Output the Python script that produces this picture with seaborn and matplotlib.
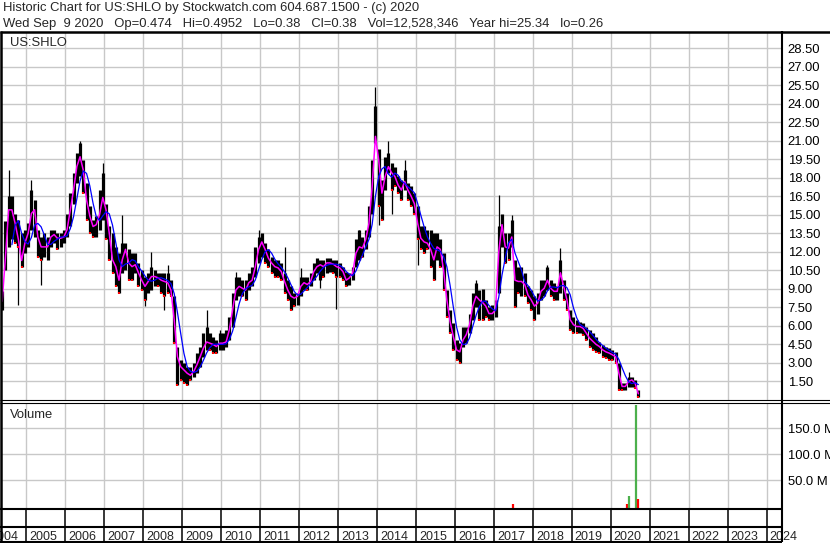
import matplotlib
matplotlib.use("Agg")
import matplotlib.pyplot as plt
import matplotlib.transforms as mtransforms
from matplotlib.lines import Line2D
import numpy as np
import pandas as pd
import seaborn as sns

# monthly bars, May 2004 .. Sep 2020
months = pd.period_range("2004-05", "2020-09", freq="M")

lo = [7.3, 10.5, 12.4, 13.0, 12.7, 12.4, 10.8, 11.9,
      12.4, 13.8, 13.2, 11.6, 11.35, 11.6, 11.35, 12.4, 12.7, 12.2, 12.4, 12.7,
      13.2, 14.05, 15.9, 17.6, 18.1, 16.75, 14.6, 13.5, 13.2, 13.2, 13.8, 14.6,
      13.0, 11.35, 10.3, 9.2, 8.65, 10.3, 10.5, 9.7, 9.7, 10.3, 9.2, 8.9,
      8.1, 8.65, 8.9, 9.2, 9.2, 8.65, 8.4, 8.65, 8.4, 4.6, 1.2, 1.63,
      1.36, 1.2, 1.63, 1.9, 2.17, 2.7, 3.5, 4.06, 4.06, 3.8, 3.8, 4.06,
      4.06, 4.33, 4.87, 5.95, 8.1, 8.4, 8.4, 8.1, 8.9, 9.2, 10.0, 11.1,
      11.6, 11.1, 10.8, 10.3, 10.0, 10.0, 9.7, 8.65, 8.1, 7.3, 7.6, 7.7,
      8.4, 8.9, 8.9, 9.2, 9.7, 10.3, 9.7, 10.0, 10.3, 10.4, 10.3, 10.0,
      10.0, 9.7, 9.2, 9.3, 9.7, 10.8, 11.35, 11.6, 12.2, 13.2, 15.1, 20.8,
      15.7, 14.6, 17.0, 18.4, 17.0, 17.3, 16.75, 16.2, 17.0, 16.2, 15.7, 15.1,
      13.0, 12.2, 11.9, 12.2, 10.8, 9.7, 11.35, 10.8, 8.9, 6.76, 5.4, 4.06,
      3.25, 3.0, 4.33, 4.6, 5.4, 6.5, 7.57, 6.5, 6.5, 6.76, 6.5, 6.5,
      6.76, 8.65, 12.4, 11.1, 11.35, 12.4, 7.57, 8.65, 8.4, 8.4, 7.84, 7.3,
      6.5, 7.0, 8.1, 8.4, 8.9, 8.4, 8.1, 8.1, 8.65, 8.1, 7.3, 5.68,
      5.4, 5.4, 5.4, 5.27, 4.87, 4.33, 4.06, 3.9, 3.79, 3.52, 3.4, 3.25,
      3.25, 3.0, 0.82, 0.82, 0.82, 1.09, 1.09, 0.95, 0.26]

hi = [8.8, 14.5, 16.5, 16.5, 15.1, 14.6, 13.5, 13.8,
      14.3, 17.0, 16.2, 13.8, 13.2, 13.5, 13.2, 13.8, 13.8, 13.5, 13.5, 13.8,
      15.1, 16.75, 18.4, 20.0, 20.8, 19.45, 17.6, 15.7, 14.6, 14.9, 17.0, 18.4,
      15.9, 14.05, 13.5, 12.4, 11.9, 12.7, 12.7, 12.2, 11.9, 11.9, 11.1, 10.5,
      10.0, 10.3, 10.8, 10.5, 10.3, 10.3, 10.3, 10.3, 9.7, 8.4, 4.33, 3.25,
      3.0, 2.7, 2.7, 3.0, 3.8, 4.33, 5.4, 5.95, 5.4, 5.14, 4.87, 5.4,
      5.4, 5.68, 6.76, 8.65, 10.0, 10.0, 9.7, 9.7, 10.3, 10.8, 12.4, 13.2,
      13.5, 12.7, 12.2, 11.6, 11.35, 11.35, 11.1, 10.3, 9.7, 9.2, 8.65, 8.65,
      10.0, 10.0, 10.0, 10.3, 11.1, 11.5, 11.35, 11.35, 11.5, 11.5, 11.35, 11.35,
      11.1, 10.8, 10.4, 10.3, 10.8, 13.0, 13.8, 13.2, 13.8, 15.7, 19.45, 23.8,
      20.3, 17.8, 19.7, 20.0, 19.2, 18.9, 18.1, 17.8, 18.6, 17.6, 17.3, 16.75,
      15.7, 14.05, 14.05, 13.8, 13.8, 13.5, 13.5, 13.0, 11.9, 8.9, 7.3, 6.2,
      4.87, 4.6, 5.95, 5.95, 7.0, 8.65, 9.46, 8.9, 9.0, 8.1, 7.57, 7.7,
      8.1, 14.05, 15.1, 13.5, 13.5, 14.6, 11.35, 10.8, 10.8, 10.3, 9.2, 8.9,
      8.4, 8.65, 9.7, 9.7, 10.8, 9.7, 9.46, 9.2, 11.35, 9.7, 8.65, 7.3,
      6.76, 6.5, 6.35, 6.22, 5.95, 5.68, 5.4, 5.14, 4.73, 4.46, 4.33, 4.2,
      4.06, 3.9, 3.0, 1.36, 1.36, 1.9, 1.9, 1.63, 0.82]

cl = [8.0, 11.5, 15.4, 15.4, 14.3, 13.0, 11.3, 12.7,
      13.5, 15.1, 15.4, 13.2, 12.4, 12.4, 12.4, 13.2, 13.4, 13.1, 13.1, 13.2,
      13.8, 15.4, 17.0, 18.9, 19.7, 18.6, 16.2, 14.9, 14.05, 14.2, 15.0, 16.4,
      15.4, 13.5, 11.35, 10.8, 9.7, 11.35, 12.2, 11.1, 10.8, 10.95, 10.3, 9.7,
      9.2, 9.6, 10.0, 10.0, 9.9, 9.7, 9.6, 9.5, 8.9, 6.5, 3.5, 2.7,
      2.44, 2.17, 2.0, 2.3, 2.85, 3.5, 4.2, 4.7, 4.6, 4.5, 4.33, 4.6,
      4.6, 4.7, 5.7, 7.3, 8.9, 9.2, 9.05, 8.9, 9.5, 9.7, 10.8, 12.2,
      12.8, 12.2, 11.5, 11.1, 10.8, 10.7, 10.4, 9.6, 8.9, 8.4, 8.25, 8.4,
      9.2, 9.5, 9.35, 9.6, 10.4, 10.8, 10.95, 10.8, 11.1, 11.1, 11.0, 10.8,
      10.7, 10.4, 9.7, 9.9, 10.3, 11.9, 12.4, 12.3, 13.0, 14.3, 17.3, 21.35,
      19.45, 16.75, 18.1, 18.9, 18.4, 18.1, 17.4, 17.0, 17.7, 17.0, 16.5, 15.9,
      14.3, 13.1, 12.8, 12.7, 12.2, 11.35, 12.4, 12.2, 10.5, 8.1, 6.35, 5.14,
      4.06, 3.9, 4.87, 5.3, 6.1, 7.6, 8.4, 8.1, 7.9, 7.6, 7.0, 7.0,
      7.3, 12.0, 14.2, 12.4, 12.3, 13.2, 9.7, 9.6, 9.6, 9.35, 8.5, 8.1,
      7.6, 7.85, 8.8, 9.05, 9.7, 9.05, 8.8, 8.8, 10.3, 9.2, 8.1, 6.5,
      6.1, 5.95, 5.95, 5.8, 5.4, 5.0, 4.75, 4.5, 4.33, 4.06, 3.9, 3.8,
      3.66, 3.5, 2.17, 1.1, 1.1, 1.5, 1.63, 1.36, 0.5]

# single-day spikes beyond the usual monthly range
spike_up_months = ["2004-07", "2005-02", "2006-05", "2006-12", "2007-06", "2008-03",
                   "2008-08", "2009-08", "2009-12", "2010-05", "2010-12", "2011-08",
                   "2012-01", "2013-07", "2013-12", "2014-04", "2014-09", "2016-07",
                   "2017-02", "2017-06", "2018-05", "2018-09", "2020-06"]
spike_up = [18.6, 17.8, 21.0, 19.2, 15.0, 12.0, 10.9, 7.3, 5.7, 10.4, 13.8, 12.4,
            10.7, 13.8, 25.34, 21.0, 19.45, 9.7, 16.6, 15.0, 10.9, 12.3, 2.3]
spike_dn_months = ["2004-10", "2005-05", "2008-01", "2008-07", "2012-07",
                   "2012-12", "2014-01", "2014-05", "2015-01"]
spike_dn = [7.7, 9.3, 7.6, 7.3, 9.05, 7.4, 14.2, 15.1, 10.95]

vol_days = ["2017-06-28", "2020-06-03", "2020-06-16", "2020-08-24", "2020-09-09"]
vol = [3.0e6, 3.0e6, 20e6, 196e6, 12.5e6]
vol_up = [False, False, True, True, False]

price_ticks = [1.5 * k for k in range(1, 20)]
vol_ticks = [50e6, 100e6, 150e6]
years = list(range(2004, 2025))


def dec_year(p):
    return p.year + (p.month - 0.5) / 12


df = pd.DataFrame({"t": [dec_year(p) for p in months], "lo": lo, "hi": hi, "cl": cl})
df["ma_long"] = df["cl"].rolling(4).mean()
df["down"] = df["cl"].diff() < 0

W, H = 830, 543
sns.set_style("white")
plt.rcParams["font.family"] = ["Liberation Sans", "DejaVu Sans"]

fig = plt.figure(figsize=(W / 100, H / 100), dpi=100)


def box(x0, y0, x1, y1):
    return [x0 / W, 1 - y1 / H, (x1 - x0) / W, (y1 - y0) / H]


xl = (2005 + (2 - 26.5) / 38.95, 2005 + (782 - 26.5) / 38.95)
grid_c = "#c8c8c8"
fs = 9.4

ax = fig.add_axes(box(2, 32.5, 782, 400))
axv = fig.add_axes(box(2, 403, 782, 508))
axs = fig.add_axes(box(2, 509, 782, 541))

for a in (ax, axv):
    a.set_xlim(*xl)
    a.set_xticks(years[1:])
    a.set_xticklabels([])
    a.grid(True, color=grid_c, lw=1.0)
    a.set_axisbelow(True)
    a.yaxis.tick_right()
    a.tick_params(axis="both", length=0, pad=4, labelsize=fs, colors="black")
    for s in a.spines.values():
        s.set_visible(False)

# price panel
ax.set_ylim(0, 29.76)
ax.set_yticks(price_ticks)
ax.set_yticklabels([f"{v:.2f}" for v in price_ticks])

up_t = [dec_year(pd.Period(m, "M")) for m in spike_up_months]
dn_t = [dec_year(pd.Period(m, "M")) for m in spike_dn_months]
ax.vlines(up_t, df.set_index("t").loc[up_t, "cl"], spike_up, color="black", lw=0.9)
ax.vlines(dn_t, spike_dn, df.set_index("t").loc[dn_t, "cl"], color="black", lw=0.9)
ax.vlines(df["t"], df["lo"], df["hi"], color="black", lw=2.3)
dd = df[df["down"]]
ax.plot(dd["t"], dd["lo"], "s", color="red", ms=1.6, mew=0)
sns.lineplot(data=df, x="t", y="cl", ax=ax, color="#ff00ff", lw=1.1)
sns.lineplot(data=df, x="t", y="ma_long", ax=ax, color="#0000ff", lw=0.9)
ax.set_xlabel("")
ax.set_ylabel("")
ax.text(8 / 780, 1 - (46 - 32.5) / 367.5, "US:SHLO", transform=ax.transAxes,
        fontsize=fs, va="baseline", ha="left")

# volume panel
vt = [pd.Timestamp(d) for d in vol_days]
vt = [d.year + (d.dayofyear - 0.5) / 365 for d in vt]
axv.set_ylim(-4e6, 199e6)
axv.set_yticks(vol_ticks)
axv.set_yticklabels([f"{v / 1e6:.1f} M" for v in vol_ticks])
axv.vlines(vt, axv.get_ylim()[0], vol, colors=["#4cb04c" if u else "red" for u in vol_up], lw=1.6)
axv.text(8 / 780, 1 - (418.3 - 403) / 105, "Volume", transform=axv.transAxes,
         fontsize=fs, va="baseline", ha="left")

# year strip
axs.set_xlim(*xl)
axs.set_ylim(0, 1)
axs.axis("off")
axs.vlines(years, 0, 1, color="black", lw=1.1)
off = mtransforms.ScaledTranslation(3 / 100, 0, fig.dpi_scale_trans)
for y in years:
    axs.text(y, (541 - 539.5) / 32, str(y), transform=axs.transData + off,
             fontsize=9.0, va="baseline", ha="left")


def fline(x0, y0, x1, y1, lw):
    fig.add_artist(Line2D([x0 / W, x1 / W], [1 - y0 / H, 1 - y1 / H],
                          transform=fig.transFigure, color="black", lw=lw,
                          solid_capstyle="butt"))


fline(0, 32, W, 32, 1.8)
fline(0, 400, W, 400, 0.8)
fline(0, 403, W, 403, 0.8)
fline(0, 509.3, 782, 509.3, 1.5)
fline(0, 526.7, 782, 526.7, 1.5)
fline(0, 541.5, 782, 541.5, 1.5)
fline(781.7, 31, 781.7, 542.3, 1.5)
fline(1.2, 31, 1.2, 542.3, 1.8)

fig.text(3 / W, 1 - 11.5 / H, "Historic Chart for US:SHLO by Stockwatch.com 604.687.1500 - (c) 2020",
         fontsize=fs, va="baseline", ha="left")
fig.text(3 / W, 1 - 26.5 / H,
         "Wed Sep  9 2020   Op=0.474   Hi=0.4952   Lo=0.38   Cl=0.38   Vol=12,528,346   Year hi=25.34   lo=0.26",
         fontsize=fs, va="baseline", ha="left")

fig.savefig("out.png", dpi=100)
